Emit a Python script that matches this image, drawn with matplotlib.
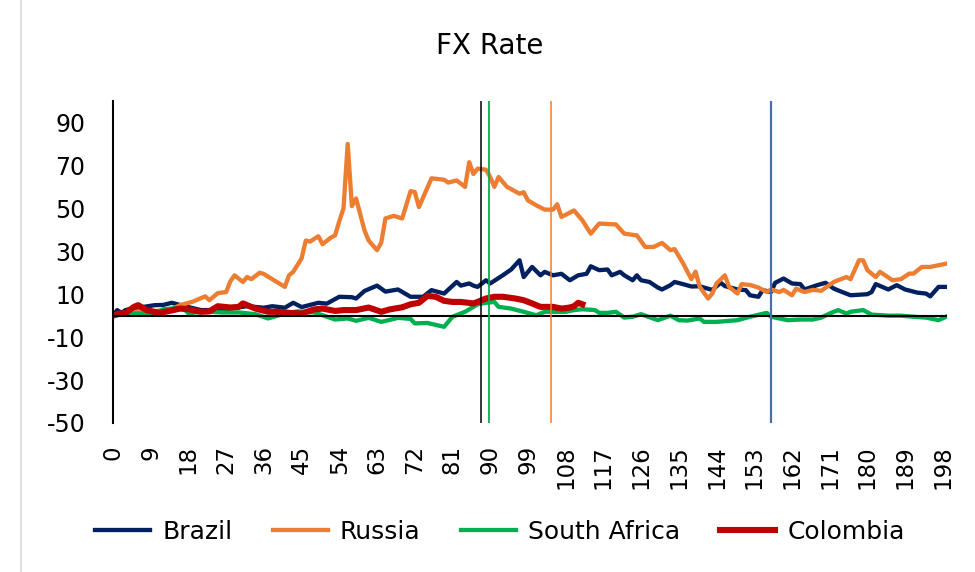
import numpy as np
import matplotlib
matplotlib.use("Agg")
import matplotlib.pyplot as plt
from matplotlib.lines import Line2D

brazil_x = [0, 1, 2, 3, 5, 7, 10, 12, 14, 16, 18, 21, 24, 27, 29, 32, 36, 38, 41, 43,
            45, 49, 51, 54, 57, 58, 60, 63, 65, 68, 71, 74, 76, 79, 82, 83, 85, 86, 87, 89,
            90, 93, 95, 97, 98, 100, 102, 103, 105, 107, 109, 111, 113, 114, 116, 118, 119, 121, 122, 124,
            125, 126, 128, 130, 131, 133, 134, 136, 138, 140, 141, 143, 145, 146, 149, 151, 152, 154, 155, 157,
            158, 160, 162, 164, 165, 168, 170, 172, 174, 176, 180, 181, 182, 185, 187, 189, 192, 194, 195, 197,
            199]
brazil_y = [0, 2.6, 1.3, 2.6, 3.5, 4, 4.9, 5, 6, 5, 4, 2.6, 2.6, 3, 3.7, 4.4, 3.7, 4.4, 3.7, 6,
            4, 6, 5.6, 8.8, 8.6, 8, 11.5, 14, 11.2, 12.2, 8.8, 8.8, 11.9, 10.3, 15.7, 14, 15, 14, 13.4, 16.5,
            15, 18.8, 21.5, 25.8, 18, 22.7, 18.8, 20.4, 18.8, 19.5, 16.5, 18.8, 19.5, 23, 21.2, 21.5, 18.8, 20.4, 18.8, 16.5,
            18.8, 16.5, 15.7, 13.1, 12.2, 14.2, 15.7, 14.7, 13.6, 13.7, 13.1, 12, 15.3, 13.8, 12.2, 11.9, 9.5, 8.8, 11.9, 11,
            15.3, 17.3, 15, 14.7, 12.2, 14.2, 15.3, 12.6, 11, 9.5, 10, 11, 14.7, 12.2, 14.2, 12.2, 10.7, 10.3, 9, 13.4,
            13.4]

russia_x = [0, 3, 6, 9, 12, 14, 16, 19, 22, 23, 25, 27, 28, 29, 31, 32, 33, 35, 36, 38,
            41, 42, 43, 45, 46, 47, 49, 50, 52, 53, 54, 55, 56, 57, 58, 60, 61, 63, 64, 65,
            67, 69, 71, 72, 73, 76, 79, 80, 82, 84, 85, 86, 87, 89, 90, 91, 92, 94, 97, 98,
            99, 101, 103, 105, 106, 107, 110, 112, 114, 116, 120, 122, 125, 127, 129, 131, 133, 134, 136, 138,
            139, 140, 142, 143, 144, 146, 147, 149, 150, 152, 154, 156, 157, 159, 160, 162, 163, 165, 167, 169,
            170, 172, 173, 175, 176, 178, 179, 180, 182, 183, 186, 188, 190, 191, 193, 195, 197, 199]
russia_y = [0, 1, 2, 2, 2.5, 3, 4.9, 6.5, 9, 7.2, 10.5, 11, 16, 18.8, 15.7, 18, 17, 20, 19.4, 17,
            13.4, 18.8, 20.4, 26.7, 35, 34.5, 37, 33.3, 36.4, 37.4, 44, 50, 80, 51, 54.6, 39.8, 35, 30.5, 34, 45.3,
            46.5, 45.3, 58, 57.6, 50.6, 64, 63.3, 62, 63, 60, 71.5, 66, 68.5, 68, 64.6, 60, 64.6, 60, 56.8, 57.5,
            53.7, 51.4, 49.4, 49.4, 51.9, 46, 49, 44.4, 38.2, 42.9, 42.5, 38.2, 37.4, 32, 32, 33.9, 30.5, 31, 24.5, 17,
            20.5, 13.4, 8, 10.3, 15, 18.8, 13.4, 10.3, 14.7, 14.3, 13.1, 11, 12.2, 11, 12, 9.5, 12.6, 11, 12, 11.6,
            13, 15.7, 16.5, 18, 17, 25.8, 25.8, 21.2, 18, 20.4, 16.5, 17, 19.6, 19.6, 22.7, 22.7, 23.5, 24.3]

safrica_x = [0, 2, 5, 8, 10, 12, 15, 17, 18, 22, 26, 30, 34, 37, 41, 44, 48, 50, 53, 56,
             58, 61, 64, 67, 68, 71, 72, 75, 79, 81, 84, 86, 87, 89, 91, 92, 95, 98, 101, 103,
             106, 108, 110, 112, 115, 116, 118, 120, 122, 124, 126, 130, 133, 135, 137, 140, 141, 144, 149, 152,
             156, 157, 161, 164, 167, 169, 171, 173, 175, 176, 179, 181, 185, 188, 191, 194, 197, 199]
safrica_y = [0, 0.5, 1, 1, 1, 3, 3.5, 3, 1.1, 2, 1.5, 1.5, 0.7, -1.3, 1, 2, 1.5, 0.2, -1.8, -1.3,
             -2.4, -1, -2.9, -1.5, -1, -1.5, -3.6, -3.4, -5.2, -0.5, 1.8, 4.1, 5.3, 6, 6.4, 4.1, 3.3, 1.8, 0.2, 1.8,
             1.8, 1.8, 2.6, 3, 2.6, 1.3, 1.3, 1.8, -0.9, -0.5, 0.7, -2.1, 0, -2.1, -2.3, -1.3, -2.9, -2.9, -2.1, -0.5,
             1.3, -0.5, -2.1, -1.8, -1.8, -0.9, 1, 2.6, 1, 1.8, 2.6, 0.5, 0, 0, -0.5, -0.9, -2.1, -0.3]

colombia_x = [0, 1, 3, 5, 6, 8, 11, 13, 16, 18, 21, 23, 25, 28, 30, 31, 34, 37, 40, 42,
              45, 48, 50, 53, 55, 58, 61, 64, 66, 69, 71, 73, 75, 77, 79, 81, 83, 86, 87, 89,
              91, 93, 96, 98, 100, 102, 105, 107, 109, 110, 111, 112]
colombia_y = [0, 0.7, 1.3, 4.1, 4.9, 2.6, 1.3, 2, 3.3, 3, 1.8, 2, 4.4, 3.8, 4.1, 5.7, 3.3, 1.8, 1.8, 1.3,
              1, 2.9, 3.3, 2.2, 2.6, 2.6, 3.8, 1.8, 2.9, 3.9, 5.3, 6, 9.2, 8.8, 6.9, 6.4, 6.4, 5.7, 6.4, 8,
              8.8, 8.8, 8, 7.2, 5.7, 4.1, 4.1, 3.3, 3.8, 4.4, 6, 5.3]

# marker lines (observation index)
event_x = [87.8, 89.7, 104.5, 157.0]
event_colors = ["#000000", "#00b050", "#ed7d31", "#4a6fb0"]
event_widths = [1.1, 1.3, 1.1, 1.6]

x_ticks = list(range(0, 199, 9))
y_ticks = list(range(-50, 91, 20))

plt.rcParams['font.family'] = ['DejaVu Sans']

fig = plt.figure(figsize=(9.75, 5.72), dpi=100)
ax = fig.add_axes([113/975, 1 - 423/572, 834/975, 322/572])

ax.plot(brazil_x, brazil_y, color="#002060", lw=3.1, label="Brazil", solid_joinstyle="round")
ax.plot(russia_x, russia_y, color="#ed7d31", lw=3.1, label="Russia", solid_joinstyle="round")
ax.plot(safrica_x, safrica_y, color="#00b050", lw=3.1, label="South Africa", solid_joinstyle="round")
ax.plot(colombia_x, colombia_y, color="#c00000", lw=4.4, label="Colombia", solid_joinstyle="round")

for xv, c, w in zip(event_x, event_colors, event_widths):
    ax.axvline(xv, color=c, lw=w, zorder=5)

ax.axhline(0, color="black", lw=1.5, zorder=4)

ax.set_xlim(0, 199)
ax.set_ylim(-50, 100)
ax.set_xticks(x_ticks)
ax.set_xticklabels([str(t) for t in x_ticks], rotation=90, fontsize=16.5)
ax.set_yticks(y_ticks)
ax.set_yticklabels([str(t) for t in y_ticks], fontsize=17)
ax.tick_params(length=0)
ax.tick_params(axis="x", pad=16)
ax.tick_params(axis="y", pad=20)

for s in ["top", "right", "bottom"]:
    ax.spines[s].set_visible(False)
ax.spines["left"].set_linewidth(1.5)
ax.spines["left"].set_color("black")

fig.text(490/975, 1 - 46/572, "FX Rate", ha="center", va="center", fontsize=20)

fig.legend(loc="center", bbox_to_anchor=(500/975, 1 - 532/572), ncol=4, frameon=False,
           fontsize=18, handlelength=2.2, handletextpad=0.5, columnspacing=1.6)

# chart-area border on the left
fig.add_artist(Line2D([21/975, 21/975], [0, 1], color="#d9d9d9", lw=1.2))

fig.savefig("out.png", dpi=100)
